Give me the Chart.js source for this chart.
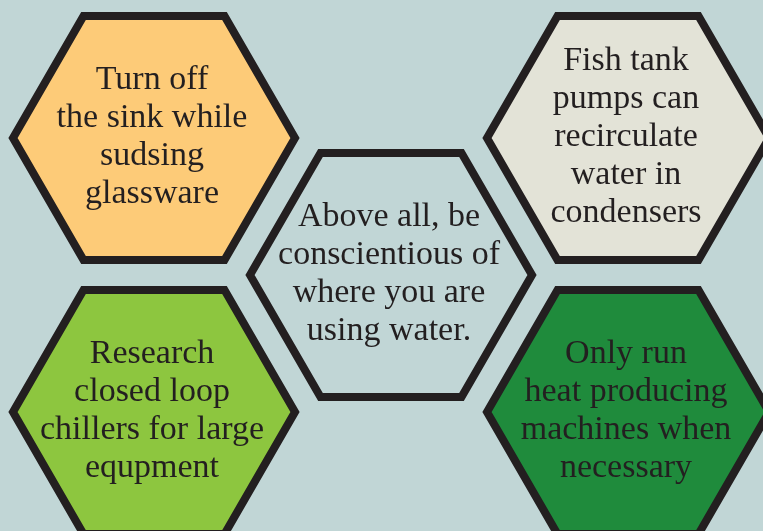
<!DOCTYPE html>
<html>
<head>
<meta charset="utf-8">
<script src="https://cdn.jsdelivr.net/npm/chart.js@4.4.1/dist/chart.umd.min.js"></script>
<style>
  html, body { margin: 0; padding: 0; background: #c1d6d6; }
  #wrap { width: 763px; height: 531px; position: relative; }
</style>
</head>
<body>
<div id="wrap"><canvas id="hexChart"></canvas></div>
<script>
// ===================== Data =====================
const tipNames = ["sink", "fishTank", "center", "chillers", "heat"];
const tipX = [154, 628, 391, 154, 628];
const tipY = [138, 138, 275, 412, 412];
const tipLines = [
  ["Turn off", "the sink while", "sudsing", "glassware"],
  ["Fish tank", "pumps can", "recirculate", "water in", "condensers"],
  ["Above all, be", "conscientious of", "where you are", "using water."],
  ["Research", "closed loop", "chillers for large", "equpment"],
  ["Only run", "heat producing", "machines when", "necessary"]
];

// ===================== Styles =====================
const tipFill = ["#fdcb78", "#e3e3d7", "#c1d6d6", "#8dc63f", "#1f8b3c"];
const strokeColor = "#231f20";
const hexRadius = 141;   // pixels, to the middle of the border
const borderWidth = 8;
const lineHeight = 38;
const font = "34px 'Liberation Serif', serif";

// ===================== Hexagon plugin =====================
const hexPlugin = {
  id: "hexagons",
  afterDatasetsDraw(chart) {
    const ctx = chart.ctx;
    const meta = chart.getDatasetMeta(0);
    meta.data.forEach((pt, i) => {
      const cx = pt.x, cy = pt.y;
      ctx.save();
      ctx.beginPath();
      for (let k = 0; k < 6; k++) {
        const a = Math.PI / 3 * k;
        const px = cx + hexRadius * Math.cos(a);
        const py = cy + hexRadius * Math.sin(a);
        if (k === 0) ctx.moveTo(px, py); else ctx.lineTo(px, py);
      }
      ctx.closePath();
      ctx.fillStyle = tipFill[i];
      ctx.fill();
      ctx.lineWidth = borderWidth;
      ctx.lineJoin = "miter";
      ctx.strokeStyle = strokeColor;
      ctx.stroke();

      // label
      const lines = tipLines[i];
      ctx.fillStyle = strokeColor;
      ctx.font = font;
      ctx.textAlign = "center";
      ctx.textBaseline = "alphabetic";
      const first = cy - (lines.length - 1) / 2 * lineHeight + 8;
      lines.forEach((t, j) => ctx.fillText(t, cx - 2, first + j * lineHeight));
      ctx.restore();
    });
  }
};

// ===================== Chart =====================
const ctx = document.getElementById("hexChart").getContext("2d");
new Chart(ctx, {
  type: "scatter",
  data: {
    labels: tipNames,
    datasets: [{
      data: tipX.map((x, i) => ({ x: x, y: tipY[i] })),
      pointRadius: 0,
      pointHoverRadius: 0
    }]
  },
  options: {
    responsive: true,
    maintainAspectRatio: false,
    animation: false,
    layout: { padding: 0 },
    plugins: { legend: { display: false }, tooltip: { enabled: false } },
    scales: {
      x: { type: "linear", min: 0, max: 763, display: false },
      y: { type: "linear", min: 0, max: 531, reverse: true, display: false }
    }
  },
  plugins: [hexPlugin]
});
</script>
</body>
</html>
